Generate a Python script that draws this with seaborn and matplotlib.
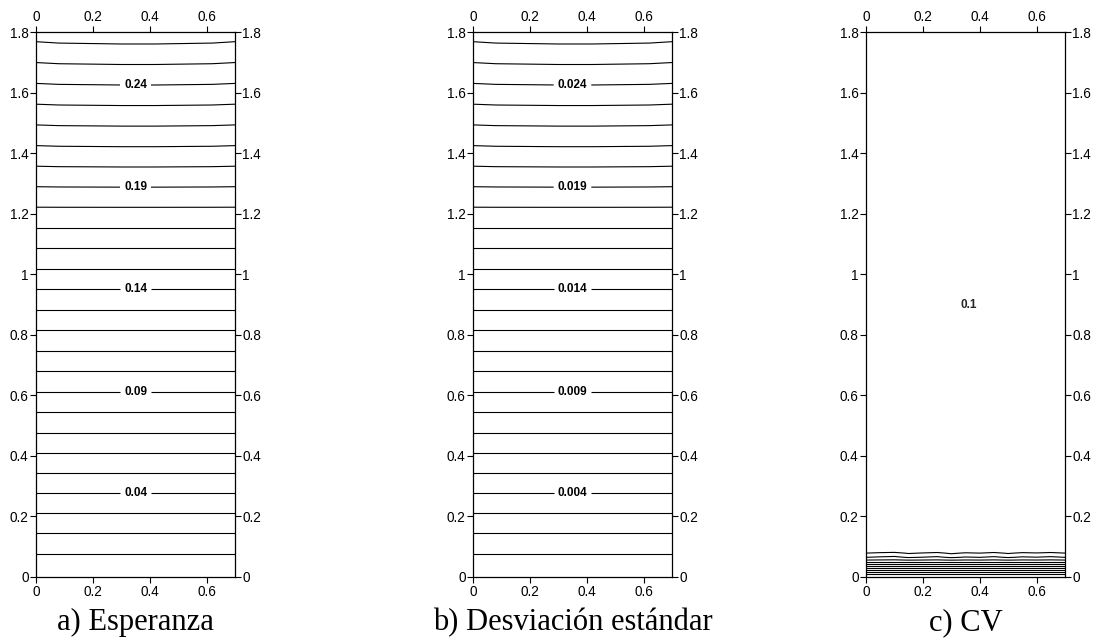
import numpy as np
import matplotlib
matplotlib.use("Agg")
import matplotlib.pyplot as plt
import seaborn as sns
from matplotlib.ticker import FuncFormatter, FixedLocator

sns.set_theme(style="ticks")
plt.rcParams["font.family"] = ["Liberation Sans", "DejaVu Sans"]

# --- grid coordinates -------------------------------------------------------
x_cols = [0.0, 0.08, 0.30, 0.42, 0.62, 0.70]
bow_shape = [0.0, 0.6, 1.0, 1.0, 0.6, 0.0]
y_rows = [0.0, 0.1, 0.2, 0.4, 0.6, 0.8, 1.0, 1.2, 1.4, 1.6, 1.8]

# --- a) expected value: profile along the edges plus a small mid bulge ------
esp_edge = [0.0, 0.0136, 0.0285, 0.0585, 0.0885, 0.1178, 0.1473, 0.1768,
            0.2063, 0.2355, 0.2645]
esp_bulge = [0.0, 0.0, 0.0, 0.0, 0.0, 0.0, 0.0, 0.0, 0.0005, 0.0007, 0.0012]
esp_levels = [0.01, 0.02, 0.03, 0.04, 0.05, 0.06, 0.07, 0.08, 0.09, 0.10,
              0.11, 0.12, 0.13, 0.14, 0.15, 0.16, 0.17, 0.18, 0.19, 0.20,
              0.21, 0.22, 0.23, 0.24, 0.25, 0.26]
esp_labelled = [0.04, 0.09, 0.14, 0.19, 0.24]

# --- b) standard deviation ---------------------------------------------------
des_edge = [0.0, 0.00136, 0.00285, 0.00585, 0.00885, 0.01178, 0.01473,
            0.01768, 0.02063, 0.02355, 0.02645]
des_bulge = [0.0, 0.0, 0.0, 0.0, 0.0, 0.0, 0.0, 0.0, 0.00005, 0.00007, 0.00012]
des_levels = [0.001, 0.002, 0.003, 0.004, 0.005, 0.006, 0.007, 0.008, 0.009,
              0.010, 0.011, 0.012, 0.013, 0.014, 0.015, 0.016, 0.017, 0.018,
              0.019, 0.020, 0.021, 0.022, 0.023, 0.024, 0.025, 0.026]
des_labelled = [0.004, 0.009, 0.014, 0.019, 0.024]

# --- c) coefficient of variation --------------------------------------------
cv_x = [0.0, 0.05, 0.10, 0.15, 0.20, 0.25, 0.30, 0.35, 0.40, 0.45, 0.50,
        0.55, 0.60, 0.65, 0.70]
cv_y = [0.0, 0.010, 0.017, 0.022, 0.029, 0.036, 0.041, 0.048, 0.055, 0.064,
        0.078, 0.090, 1.8]
cv_base = [0.21, 0.20, 0.19, 0.18, 0.17, 0.16, 0.15, 0.14, 0.13, 0.12, 0.11,
           0.10, 0.10]
cv_ripple = [0.0, 0.0015, 0.0025, -0.001, 0.0005, 0.002, -0.0015, 0.001,
             0.0, 0.002, -0.001, 0.0015, 0.0005, 0.002, 0.0]
cv_ripple_weight = [0.0, 0.0, 0.0, 0.0, 0.0, 0.0, 0.0, 0.0, 0.3, 0.8, 1.0,
                    0.0, 0.0]
cv_levels = [0.11, 0.12, 0.13, 0.14, 0.15, 0.16, 0.17, 0.18, 0.19, 0.20]

x_ticks = [0.0, 0.2, 0.4, 0.6]
y_ticks = [0.0, 0.2, 0.4, 0.6, 0.8, 1.0, 1.2, 1.4, 1.6, 1.8]
titles = ["a) Esperanza", "b) Desviación estándar", "c) CV"]


def field(edge, bulge):
    return (np.asarray(edge)[:, None]
            + np.asarray(bulge)[:, None] * np.asarray(bow_shape)[None, :])


fig = plt.figure(figsize=(10.96, 6.39), dpi=100)
W, H = 1096.0, 639.0
lefts = [36, 473, 866]
ax_w, ax_top, ax_bot = 199, 32.3, 576.7

axes = []
for left in lefts:
    ax = fig.add_axes([left / W, (H - ax_bot) / H, ax_w / W,
                       (ax_bot - ax_top) / H])
    axes.append(ax)

fmt_g = FuncFormatter(lambda v, p: f"{v:g}")


def style_axes(ax, title):
    ax.set_xlim(0, 0.7)
    ax.set_ylim(0, 1.8)
    ax.xaxis.set_major_locator(FixedLocator(x_ticks))
    ax.yaxis.set_major_locator(FixedLocator(y_ticks))
    ax.xaxis.set_major_formatter(fmt_g)
    ax.yaxis.set_major_formatter(fmt_g)
    ax.tick_params(axis="both", which="major", direction="out", length=4.3,
                   width=0.8, color="black", labelsize=9.8, labelcolor="black",
                   top=True, bottom=True, left=True, right=True,
                   labeltop=True, labelbottom=True, labelleft=True,
                   labelright=True)
    ax.tick_params(axis="x", pad=2)
    ax.tick_params(axis="y", pad=1)
    for s in ax.spines.values():
        s.set_visible(True)
        s.set_color("black")
        s.set_linewidth(0.9)
    ax.set_facecolor("white")
    ax.grid(False)
    bb = ax.get_position()
    fig.text(bb.x0 + bb.width / 2, 9.0 / H, title, ha="center",
             va="baseline", fontsize=22,
             family=["Liberation Serif", "DejaVu Serif"], color="black")


label_size = 8.5

# a) and b): plain isolines, then the labelled ones drawn on their own
for ax, edge, bulge, levels, labelled, fmt, title in [
    (axes[0], esp_edge, esp_bulge, esp_levels, esp_labelled, "%.2f",
     titles[0]),
    (axes[1], des_edge, des_bulge, des_levels, des_labelled, "%.3f",
     titles[1]),
]:
    Z = field(edge, bulge)
    plain = [lv for lv in levels if lv not in labelled]
    ax.contour(x_cols, y_rows, Z, levels=plain, colors="black",
               linewidths=0.8)
    cs = ax.contour(x_cols, y_rows, Z, levels=labelled, colors="black",
                    linewidths=0.8)
    spots = [(0.35, float(np.interp(lv, edge, y_rows))) for lv in labelled]
    lbls = ax.clabel(cs, manual=spots, inline=True, inline_spacing=4,
                     fmt=fmt, fontsize=label_size)
    for t in lbls:
        t.set_fontweight("bold")
        t.set_rotation(0)
    style_axes(ax, title)

# c)
Zc = (np.asarray(cv_base)[:, None]
      + np.asarray(cv_ripple_weight)[:, None] * np.asarray(cv_ripple)[None, :])
axes[2].contour(cv_x, cv_y, Zc, levels=cv_levels, colors="black",
                linewidths=0.8)
axes[2].text(0.36, 0.90, f"{cv_base[-1]:g}", ha="center", va="center",
             fontsize=label_size, fontweight="bold")
style_axes(axes[2], titles[2])

fig.savefig("out.png", dpi=100, facecolor="white")
